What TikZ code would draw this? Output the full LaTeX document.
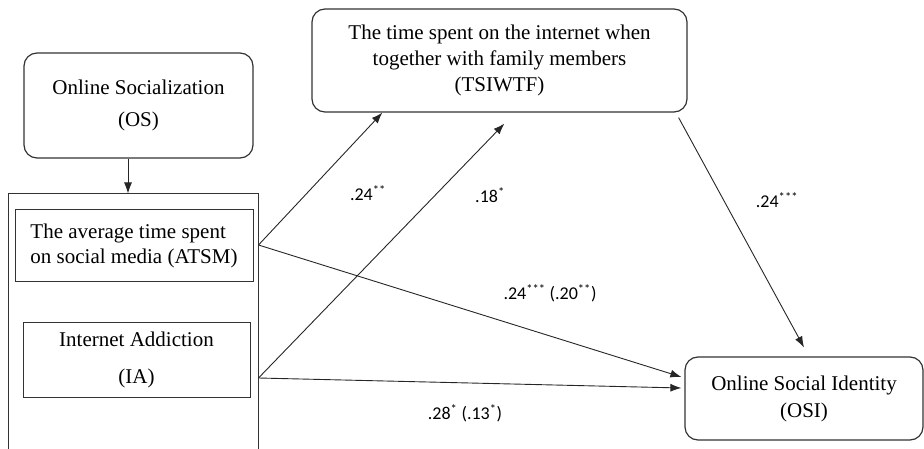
\documentclass[tikz,border=0pt]{standalone}
\usepackage{fontspec}
\setmainfont{Liberation Serif}
\newfontfamily\coeffont{Carlito}
\usetikzlibrary{arrows.meta}
\begin{document}
\begin{tikzpicture}[x=1pt,y=1pt,yscale=-1,xscale=1,
  roundbox/.style={draw=black!80,line width=1.2pt,rounded corners=13pt,inner sep=0pt,align=center,font=\fontsize{21}{25}\selectfont},
  sqbox/.style={draw=black!80,line width=1pt,inner sep=0pt,font=\fontsize{21}{25}\selectfont},
  conn/.style={draw=black!85,line width=0.9pt,-{Latex[length=11pt,width=8pt]}},
  coef/.style={font=\coeffont\fontsize{18}{20}\selectfont,inner sep=0pt}]
\useasboundingbox (0,0) rectangle (924,449);

%Rounded Rect
\node[roundbox,minimum width=229pt,minimum height=105pt] (os) at (138.5,105.5) {Online Socialization\\[7pt](OS)};
%Rounded Rect
\node[roundbox,minimum width=375pt,minimum height=103pt,font=\fontsize{21}{26}\selectfont] (tsiwtf) at (499.5,60.5) {The time spent on the internet when\\together with family members\\(TSIWTF)};
%Rounded Rect
\node[roundbox,minimum width=238pt,minimum height=83pt] (osi) at (804,398.5) {Online Social Identity\\[2pt](OSI)};
%Rect (open at the bottom)
\node[sqbox,minimum width=250pt,minimum height=270pt] (grp) at (133,329) {};
%Rect
\node[sqbox,minimum width=238pt,minimum height=72pt,align=left] (atsm) at (134,246) {The average time spent\\on social media (ATSM)};
%Rect
\node[sqbox,minimum width=227pt,minimum height=75pt,align=center] (ia) at (136.5,359.5) {Internet Addiction\\[12pt](IA)};

%Straight Lines
\draw[conn] ([xshift=-10.5pt]os.south) -- ([xshift=-5pt]grp.north);
\draw[conn] ([yshift=-84pt]grp.east) -- ([xshift=71pt]tsiwtf.south west);
\draw[conn] ([yshift=49pt]grp.east) -- ([xshift=193pt,yshift=11pt]tsiwtf.south west);
\draw[conn] ([yshift=-84pt]grp.east) -- ([xshift=-3pt,yshift=-21.5pt]osi.west);
\draw[conn] ([yshift=49pt]grp.east) -- ([xshift=-3pt,yshift=-10.5pt]osi.west);
\draw[conn] ([xshift=-9pt,yshift=5pt]tsiwtf.south east) -- ([yshift=-9pt]osi.north);

% Text Node
\node[coef] (c1) at (368,193) {.24\textsuperscript{**}};
% Text Node
\node[coef] (c2) at (490,195) {.18\textsuperscript{*}};
% Text Node
\node[coef] (c3) at (550,293) {.24\textsuperscript{***} (.20\textsuperscript{**})};
% Text Node
\node[coef] (c4) at (465,413) {.28\textsuperscript{*} (.13\textsuperscript{*})};
% Text Node
\node[coef] (c5) at (777,200) {.24\textsuperscript{***}};

\end{tikzpicture}
\end{document}
